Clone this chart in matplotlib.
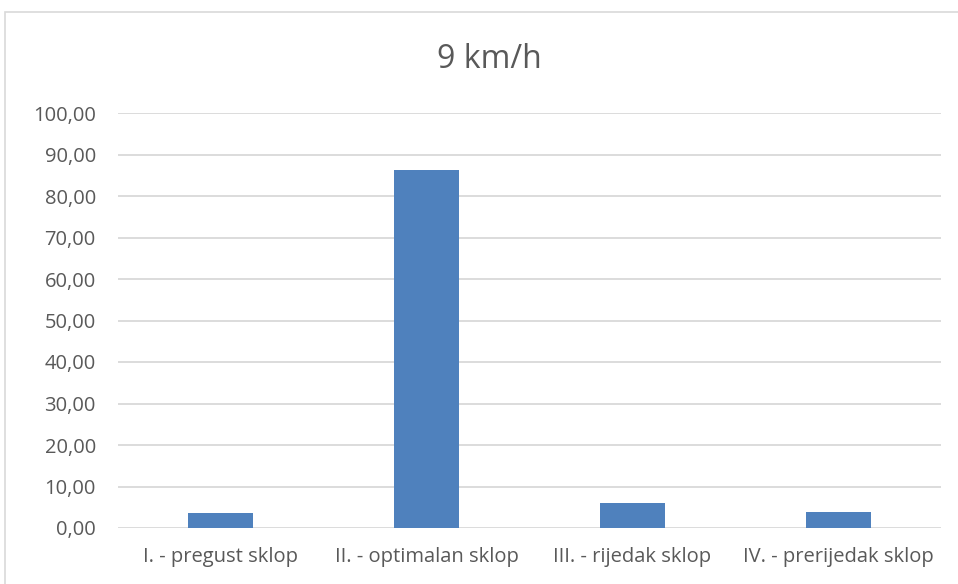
import matplotlib
matplotlib.use("Agg")
import matplotlib.pyplot as plt
from matplotlib.patches import Rectangle

categories = ["I. - pregust sklop", "II. - optimalan sklop", "III. - rijedak sklop", "IV. - prerijedak sklop"]
values = [3.6, 86.2, 6.0, 3.9]
yticks = [0, 10, 20, 30, 40, 50, 60, 70, 80, 90, 100]
ytick_labels = ["0,00", "10,00", "20,00", "30,00", "40,00", "50,00", "60,00", "70,00", "80,00", "90,00", "100,00"]
title = "9 km/h"

plt.rcParams['font.family'] = ['Open Sans', 'DejaVu Sans']

fig = plt.figure(figsize=(9.58, 5.84), dpi=100)
fig.patches.append(Rectangle((5/958, -0.1), 1.2, 1.1 - 12/584, transform=fig.transFigure,
                             fill=False, edgecolor="#d9d9d9", linewidth=1.2))
ax = fig.add_axes([118/958, 56/584, (941-118)/958, (528-113)/584])
x = range(len(categories))
ax.bar(x, values, width=0.316, color="#4f81bd", zorder=3)
ax.set_xlim(-0.5, 3.5)
ax.set_ylim(0, 100)
ax.set_yticks(yticks)
ax.set_yticklabels(ytick_labels)
ax.set_xticks(list(x))
ax.set_xticklabels(categories)
ax.grid(axis="y", color="#d9d9d9", linewidth=1.3, zorder=0)
for s in ax.spines.values():
    s.set_visible(False)
ax.tick_params(axis="both", length=0, colors="#595959")
ax.tick_params(axis="y", pad=16, labelsize=14.5)
ax.tick_params(axis="x", pad=14, labelsize=14.5)
fig.text(489/958, 1 - 60/584, title, ha="center", va="center", fontsize=23, color="#595959")
fig.savefig("out.png", dpi=100)
